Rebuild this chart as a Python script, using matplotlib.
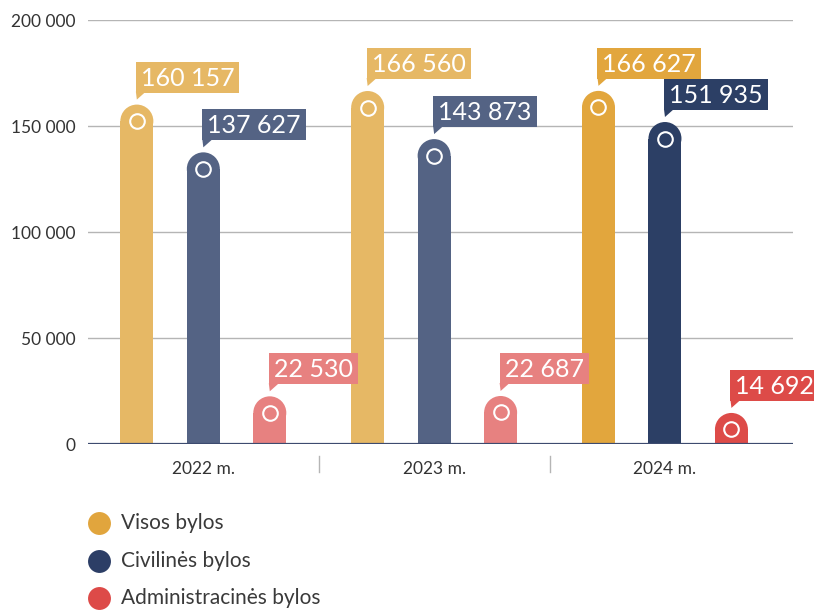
import matplotlib
matplotlib.use("Agg")
import matplotlib.pyplot as plt
from matplotlib.patches import Rectangle, Ellipse, Polygon
from matplotlib.lines import Line2D
from matplotlib.transforms import IdentityTransform, blended_transform_factory

plt.rcParams["font.family"] = ["Lato", "DejaVu Sans"]

years = ["2022 m.", "2023 m.", "2024 m."]
series = ["Visos bylos", "Civilinės bylos", "Administracinės bylos"]
visos = [160157, 166560, 166627]
civilines = [137627, 143873, 151935]
administracines = [22530, 22687, 14692]

# muted shades for earlier years, full shades for the latest one
light_colors = ["#E6B865", "#546384", "#E78180"]
dark_colors = ["#E2A63D", "#2C3F65", "#DD4B48"]
legend_colors = ["#E1A53D", "#2C3E66", "#DD4A48"]

values = [visos, civilines, administracines]
offsets = [-0.288, 0.0, 0.288]
bar_w = 0.143

fig = plt.figure(figsize=(8.14, 6.10), dpi=100)
ax = fig.add_axes([0.108, 0.272, 0.866, 0.695])
ax.set_xlim(-0.5, 2.554)
ax.set_ylim(0, 200000)

# grid and axis styling
ax.set_yticks([0, 50000, 100000, 150000, 200000])
ax.set_yticklabels(["0", "50 000", "100 000", "150 000", "200 000"])
ax.set_xticks(range(len(years)))
ax.set_xticklabels(years)
ax.tick_params(axis="both", length=0, labelsize=12.5, colors="#333333")
ax.tick_params(axis="y", pad=9)
ax.tick_params(axis="x", pad=12)
for sp in ax.spines.values():
    sp.set_visible(False)
for yv in [50000, 100000, 150000, 200000]:
    ax.axhline(yv, color="#b5b5b5", lw=1, zorder=0)
ax.axhline(0, color="#3d4b6f", lw=1.6, zorder=3)

# group separators below the baseline
sep_t = blended_transform_factory(ax.transData, ax.transAxes)
for xs in [0.5, 1.5]:
    ax.plot([xs, xs], [-0.028, -0.066], color="#b5b5b5", lw=1,
            transform=sep_t, clip_on=False)

# radius of the rounded top in data units (half bar width in pixels)
p0 = ax.transData.transform((0, 0))
p1 = ax.transData.transform((bar_w, 1))
r_px = (p1[0] - p0[0]) / 2
ry = r_px / (p1[1] - p0[1])

bars = []
for s, vals in enumerate(values):
    for g, v in enumerate(vals):
        color = dark_colors[s] if g == 2 else light_colors[s]
        x = g + offsets[s]
        ax.add_patch(Rectangle((x - bar_w / 2, 0), bar_w, v - ry,
                               facecolor=color, edgecolor="none", zorder=2))
        ax.add_patch(Ellipse((x, v - ry), bar_w, 2 * ry,
                             facecolor=color, edgecolor="none", zorder=2))
        ax.plot([x], [v - ry], marker="o", ms=10.5, mfc="none",
                mec="white", mew=1.5, zorder=4)
        bars.append((x, v, color))

fig.canvas.draw()
renderer = fig.canvas.get_renderer()
ident = IdentityTransform()

# value labels in flag-shaped boxes
for x, v, color in bars:
    cx, ty = ax.transData.transform((x, v))
    left = cx - 1
    bottom = ty + 12
    label = f"{v:,}".replace(",", " ")
    t = fig.text(left + 5, bottom + 7, label, transform=ident, color="white",
                 fontsize=18, ha="left", va="baseline", zorder=12)
    w = t.get_window_extent(renderer).width
    fig.add_artist(Rectangle((left, bottom), w + 10, 31, transform=ident,
                             facecolor=color, edgecolor="none", zorder=10))
    fig.add_artist(Polygon([(left, bottom + 1), (left + 10, bottom + 1),
                            (left + 1, bottom - 7)], closed=True,
                           transform=ident, facecolor=color,
                           edgecolor="none", zorder=10))

# legend
H = 610
for i, (name, col) in enumerate(zip(series, legend_colors)):
    yc = H - [523, 561, 598][i]
    fig.add_artist(Line2D([99], [yc], marker="o", ms=16.5, color=col,
                          mec="none", transform=ident))
    fig.text(121, yc, name, transform=ident, fontsize=15, color="#3a3a3a",
             ha="left", va="center")

fig.savefig("out.png", dpi=100)
